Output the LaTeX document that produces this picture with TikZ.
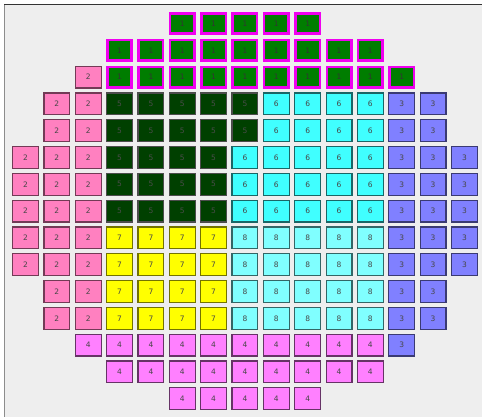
\documentclass[tikz,border=0pt]{standalone}
\usepackage{fontspec}
\setmainfont{DejaVu Sans}
\definecolor{bg}{HTML}{EEEEEE}
\definecolor{t1}{RGB}{0,125,0}
\definecolor{t2}{RGB}{255,128,192}
\definecolor{t3}{RGB}{128,128,255}
\definecolor{t4}{RGB}{255,128,255}
\definecolor{t5}{RGB}{0,64,0}
\definecolor{t6}{RGB}{64,255,255}
\definecolor{t7}{RGB}{255,255,0}
\definecolor{t8}{RGB}{128,255,255}
\definecolor{mag}{RGB}{240,0,240}
\definecolor{txt}{RGB}{70,70,70}
\tikzset{
  cellbase/.style={rectangle, inner sep=0pt, line width=1.2pt, minimum width=25.8pt, minimum height=21.8pt,
    font=\fontsize{7.5}{7.5}\selectfont, text=txt},
  cell1/.style={cellbase, fill=t1, draw=mag, line width=2.6pt, minimum width=24.4pt, minimum height=20.4pt, text=black!80},
  cell2/.style={cellbase, fill=t2, draw=t2!45!black},
  cell3/.style={cellbase, fill=t3, draw=t3!45!black},
  cell4/.style={cellbase, fill=t4, draw=t4!40!black},
  cell5/.style={cellbase, fill=t5, draw=gray!60!black, text=black!70},
  cell6/.style={cellbase, fill=t6, draw=t6!40!black},
  cell7/.style={cellbase, fill=t7, draw=t7!45!black},
  cell8/.style={cellbase, fill=t8, draw=t8!40!black},
}
\begin{document}
\begin{tikzpicture}[x=1pt,y=-1pt]
\useasboundingbox (0,0) rectangle (482,417);
\fill[white] (0,0) rectangle (482,417);
\fill[bg] (4,4) rectangle (482,417);
\draw[black!45, line width=0.8pt] (4.4,4) -- (4.4,417);
\draw[black!80, line width=1.4pt] (4,4.5) -- (482,4.5);
\foreach \r/\a/\b/\t in {
  0/5/9/1, 1/3/11/1, 2/2/2/2, 2/3/12/1,
  3/1/2/2, 3/3/7/5, 3/8/11/6, 3/12/13/3,
  4/1/2/2, 4/3/7/5, 4/8/11/6, 4/12/13/3,
  5/0/2/2, 5/3/6/5, 5/7/11/6, 5/12/14/3,
  6/0/2/2, 6/3/6/5, 6/7/11/6, 6/12/14/3,
  7/0/2/2, 7/3/6/5, 7/7/11/6, 7/12/14/3,
  8/0/2/2, 8/3/6/7, 8/7/11/8, 8/12/14/3,
  9/0/2/2, 9/3/6/7, 9/7/11/8, 9/12/14/3,
  10/1/2/2, 10/3/6/7, 10/7/11/8, 10/12/13/3,
  11/1/2/2, 11/3/6/7, 11/7/11/8, 11/12/13/3,
  12/2/11/4, 12/12/12/3,
  13/3/11/4,
  14/5/9/4}{
  \foreach \c in {\a,...,\b}{
    \node[cell\t] (c-\r-\c) at ({25.5+31.35*\c},{23.5+26.8*\r}) {\t};
  }
}
\end{tikzpicture}
\end{document}
